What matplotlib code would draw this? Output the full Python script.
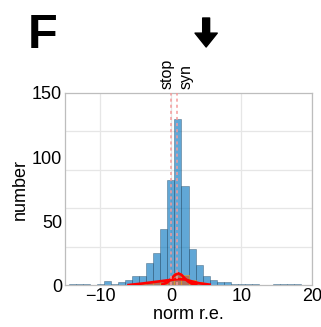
import matplotlib
matplotlib.use("Agg")
import matplotlib.pyplot as plt
import numpy as np

plt.rcParams['font.family'] = ['Liberation Sans', 'DejaVu Sans']

# bin centres (bin width 1) and counts
bin_centers = np.arange(-14, 20)
all_counts = [1, 1, 1, 0, 1, 3, 1, 2, 4, 7, 7, 17, 25, 44, 82, 130, 77, 28, 16,
              7, 4, 2, 2, 1, 1, 1, 1, 0, 0, 1, 1, 1, 1, 0]
sub_centers = np.arange(-4, 6)
sub_counts = [1, 2, 3, 4, 5, 9, 8, 4, 2, 1]

narrow_x = [-1.2, -0.5, 0.0, 0.5, 1.0, 1.5, 2.0, 2.5, 3.0, 3.6]
narrow_y = [0.5, 2.0, 4.5, 7.5, 9.2, 8.0, 5.0, 2.5, 1.0, 0.3]
broad_x = [-6.0, -4.0, -2.0, 0.0, 1.0, 2.0, 3.0, 4.0, 5.5]
broad_y = [0.0, 1.2, 2.6, 4.0, 4.6, 4.3, 2.8, 1.4, 0.3]

stop_x = 0.0
syn_x = 0.9
arrow_x = 5.0

fig = plt.figure(figsize=(3.21, 3.27), dpi=100)
ax = fig.add_axes([0.2025, 0.1284, 0.7695, 0.5872])

ax.bar(bin_centers, all_counts, width=1.0, color='#0072BD', alpha=0.62,
       edgecolor='#1a3a55', linewidth=0.4, zorder=2)
ax.bar(sub_centers, sub_counts, width=1.0, color='#D95319', alpha=0.6,
       edgecolor='#EDB120', linewidth=0.6, zorder=3)
ax.plot(broad_x, broad_y, color='red', lw=1.9, zorder=4)
ax.plot(narrow_x, narrow_y, color='red', lw=1.9, zorder=4)

for xv in (stop_x, syn_x):
    ax.axvline(xv, color='#f59a9a', lw=1.1, ls=(0, (2, 2)), zorder=5)

ax.set_xlim(-15, 20)
ax.set_ylim(0, 150)
ax.set_xticks([-10, 0, 10, 20])
ax.set_yticks([0, 50, 100, 150])
ax.set_yticks([30, 60, 90, 120], minor=True)
ax.grid(axis='x', which='major', color='#e6e6e6', lw=0.9, zorder=0)
ax.grid(axis='y', which='minor', color='#e6e6e6', lw=0.9, zorder=0)
ax.set_axisbelow(True)
ax.tick_params(which='both', length=0, labelsize=13, pad=2)
for s in ax.spines.values():
    s.set_color('#bdbdbd')
    s.set_linewidth(0.9)

ax.set_xlabel('norm r.e.', fontsize=13, labelpad=1)
ax.set_ylabel('number', fontsize=13, labelpad=2)

# line labels above the axes
ax.text(stop_x - 0.6, 1.02, 'stop', rotation=90, fontsize=11.5,
        transform=ax.get_xaxis_transform(), ha='center', va='bottom')
ax.text(syn_x + 1.2, 1.02, 'syn', rotation=90, fontsize=11.5,
        transform=ax.get_xaxis_transform(), ha='center', va='bottom')

ax.annotate('', xy=(arrow_x, 1 - 47 / 327), xycoords=('data', 'figure fraction'),
            xytext=(arrow_x, 1 - 18 / 327), textcoords=('data', 'figure fraction'),
            arrowprops=dict(arrowstyle='simple,head_width=0.8,head_length=0.5,tail_width=0.25',
                            color='black', mutation_scale=20, shrinkA=0, shrinkB=0),
            annotation_clip=False)

fig.text(28 / 321, 1 - 48 / 327, 'F', fontsize=35, fontweight='bold', va='baseline')

fig.savefig('out.png', dpi=100)
